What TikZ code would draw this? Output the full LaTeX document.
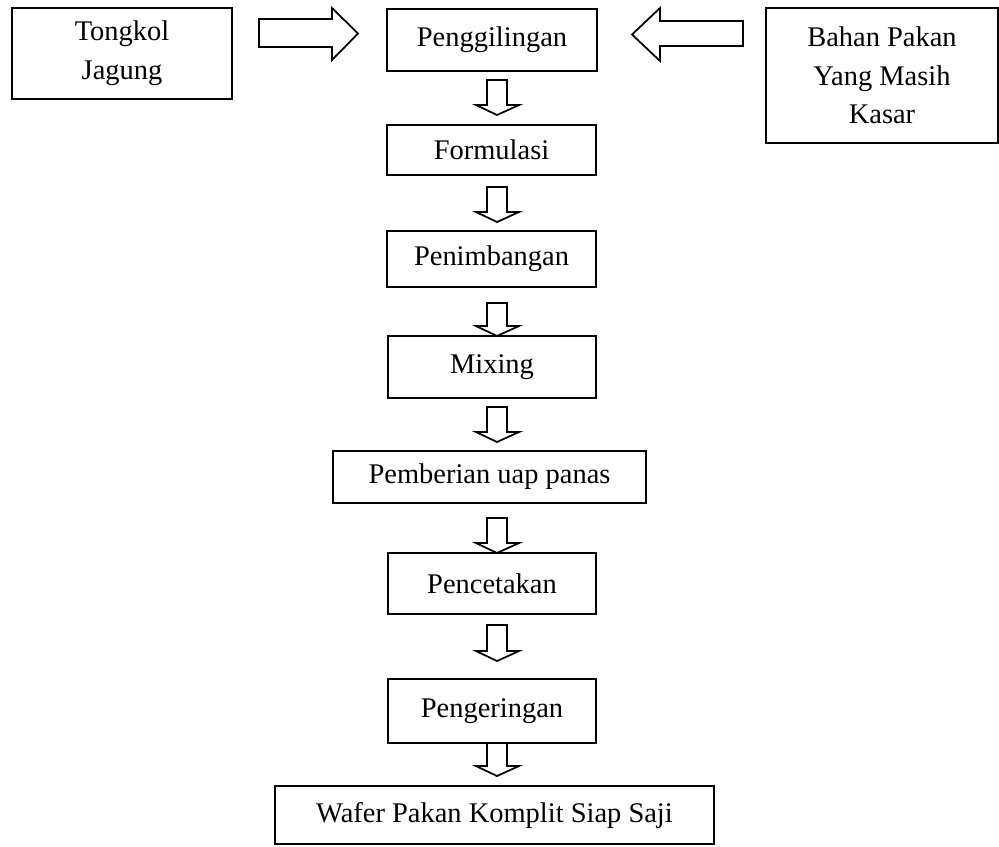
\documentclass[tikz,border=0pt]{standalone}
\usepackage{fontspec}
\setmainfont{Liberation Serif}
\usepackage{xcolor}
\newcommand{\hollowdown}[2]{
  \draw[hollow] (487,#1) -- (507,#1) -- (507,#2-10) -- (519,#2-10) -- (497,#2)
    -- (476,#2-10) -- (487,#2-10) -- cycle;
}

\begin{document}
\begin{tikzpicture}[x=0.02cm, y=-0.02cm,
    every node/.style={font=\fontsize{16.2}{22}\selectfont},
    box/.style 2 args={draw, line width=1.1pt, inner sep=0pt, align=center,
      minimum width=#1*0.02cm, minimum height=#2*0.02cm},
    hollow/.style={draw=black, line width=1pt, line join=miter, fill=white}]
    \useasboundingbox (0,0) rectangle (999,846);
    % top row
    \node[box={220}{91}] (tongkol) at (122,53.5) {Tongkol\\Jagung};
    \node[box={210}{62}] (giling) at (492,40) {Penggilingan};
    \node[box={232}{135}] (bahan) at (882,75.5) {Bahan Pakan\\Yang Masih\\Kasar};
    % process column
    \node[box={209}{50}] (formulasi) at (491.5,150) {Formulasi};
    \node[box={209}{56}] (timbang) at (491.5,259) {Penimbangan};
    \node[box={208}{62}] (mixing) at (492,367) {Mixing};
    \node[box={313}{52}] (uap) at (489.5,477) {Pemberian uap panas};
    \node[box={208}{61}] (cetak) at (492,583.5) {Pencetakan};
    \node[box={208}{64}] (kering) at (492,711) {Pengeringan};
    \node[box={439}{58}] (wafer) at (494.5,815) {Wafer Pakan Komplit Siap Saji};
    % side arrows
    \draw[hollow] (259,19) -- (332,19) -- (332,8) -- (358,33.5) -- (332,60)
      -- (332,47) -- (259,47) -- cycle;
    \draw[hollow] (743,21) -- (660,21) -- (660,8) -- (632,34.5) -- (660,61)
      -- (660,46) -- (743,46) -- cycle;
    % down arrows
    \foreach \ya/\yb in {80/115, 187/222, 303/336, 407/442, 518/553, 625/661, 743/776} {
      \hollowdown{\ya}{\yb}
    }
\end{tikzpicture}
\end{document}
